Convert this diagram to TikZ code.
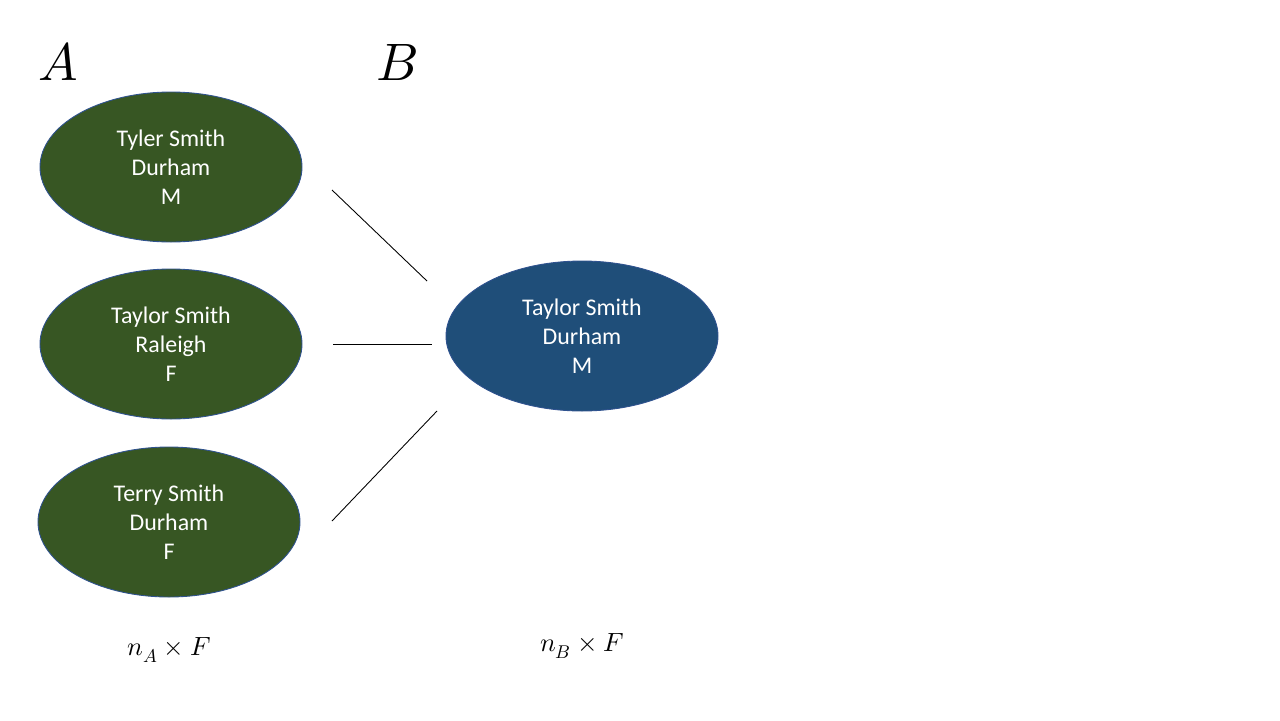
\documentclass[tikz,border=0pt]{standalone}
\usepackage{fontspec}
\setmainfont{Carlito}
\usepackage{unicode-math}
\setmathfont{Latin Modern Math}
\usetikzlibrary{shapes.geometric}
\definecolor{gfill}{HTML}{375623}
\definecolor{bfill}{HTML}{1F4E79}
\definecolor{edgeblue}{HTML}{2F528F}
\tikzset{
  rec/.style={ellipse, draw=edgeblue, line width=0.5pt, text=white, align=center,
    inner sep=0pt, font=\fontsize{13.6}{16.4}\selectfont},
  grec/.style={rec, fill=gfill, minimum width=262*0.02cm, minimum height=150*0.02cm},
  brec/.style={rec, fill=bfill, minimum width=272*0.02cm, minimum height=150*0.02cm},
  link/.style={draw=black, line width=0.5pt},
  setlbl/.style={font=\fontsize{30}{36}\selectfont},
  dimlbl/.style={font=\fontsize{15}{18}\selectfont}
}
\begin{document}
\begin{tikzpicture}[x=0.02cm,y=-0.02cm]
\useasboundingbox (0,0) rectangle (1280,720);
\node[grec] (e1) at (171,167) {Tyler Smith\\Durham\\M};
\node[grec] (e2) at (171,344) {Taylor Smith\\Raleigh\\F};
\node[grec] (e3) at (169,522) {Terry Smith\\Durham\\F};
\node[brec] (e4) at (582,336) {Taylor Smith\\Durham\\M};
\node[setlbl] (la) at (58,62) {$A$};
\node[setlbl] (lb) at (397,62) {$B$};
\node[dimlbl] (da) at (169,650) {$n_A \times F$};
\node[dimlbl] (db) at (582,646) {$n_B \times F$};
\coordinate (s1) at (332,190);
\coordinate (t1) at (427,281);
\coordinate (s2) at (333,344);
\coordinate (t2) at (432,344);
\coordinate (s3) at (332,521);
\coordinate (t3) at (437,411);
\draw[link] (s1) -- (t1);
\draw[link] (s2) -- (t2);
\draw[link] (s3) -- (t3);
\end{tikzpicture}
\end{document}
